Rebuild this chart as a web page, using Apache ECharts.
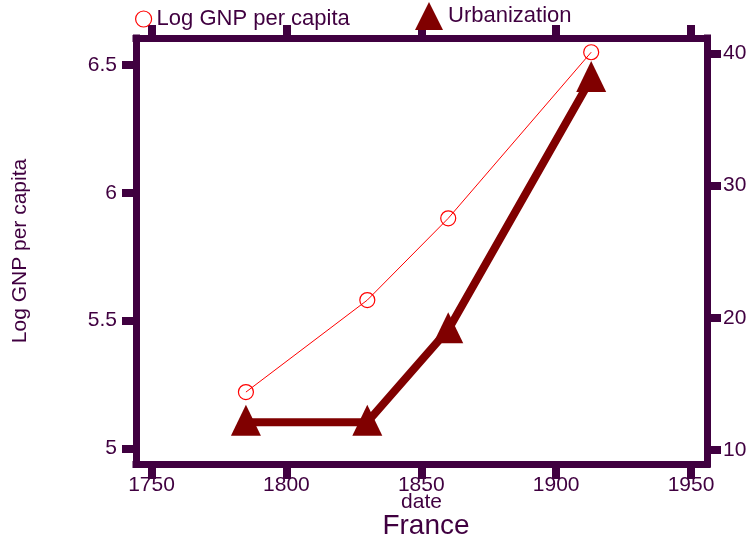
<!DOCTYPE html>
<html>
<head>
<meta charset="utf-8">
<script src="https://cdn.jsdelivr.net/npm/echarts@6/dist/echarts.min.js"></script>
<style>
  html, body { margin: 0; padding: 0; background: #fff; }
  #chart { width: 753px; height: 541px; }
</style>
</head>
<body>
<div id="chart"></div>
<script>
// France: income and urbanization over time
const years = [1785, 1830, 1860, 1913];
const logGnpPerCapita = [5.22, 5.58, 5.90, 6.55];
const urbanization = [12.1, 12.1, 19.1, 38.1];

const dateTicks = [1750, 1800, 1850, 1900, 1950];
const gnpTicks = [5, 5.5, 6, 6.5];
const urbanTicks = [10, 20, 30, 40];

const frameColor = '#400040';
const textColor = '#400040';
const font = 'Liberation Sans';

const chart = echarts.init(document.getElementById('chart'), null, { renderer: 'canvas' });

const frameLine = { show: true, lineStyle: { color: frameColor, width: 7, cap: 'square' } };
const frameTick = (values, len) => ({
  show: true, inside: false, length: len, customValues: values,
  lineStyle: { color: frameColor, width: 8 }
});
const plain = v => String(v);

chart.setOption({
  animation: false,
  backgroundColor: '#fff',
  textStyle: { fontFamily: font, color: textColor },
  title: {
    text: 'France',
    left: 421, top: 507, textAlign: 'center',
    textStyle: { fontFamily: font, fontSize: 28, fontWeight: 'normal', color: textColor }
  },
  legend: [
    {
      data: ['Log GNP per capita'],
      left: 135, top: 8, padding: 0,
      icon: 'circle', itemWidth: 16, itemHeight: 16,
      itemStyle: { color: 'transparent', borderColor: '#ff0000', borderWidth: 1.2 },
      textStyle: { fontFamily: font, fontSize: 22, color: textColor }
    },
    {
      data: ['Urbanization'],
      left: 415, top: 2, padding: 0,
      icon: 'triangle', itemWidth: 28, itemHeight: 28,
      itemStyle: { color: '#800000', borderWidth: 0 },
      textStyle: { fontFamily: font, fontSize: 22, color: textColor }
    }
  ],
  grid: { left: 136, right: 46, top: 38, bottom: 77, containLabel: false },
  xAxis: [
    {
      type: 'value', position: 'bottom', min: 1744.25, max: 1955.93,
      name: 'date', nameLocation: 'middle', nameGap: 28, nameMoveOverlap: false,
      nameTextStyle: { fontFamily: font, fontSize: 21, color: textColor },
      axisLine: Object.assign({ onZero: false }, frameLine),
      axisTick: frameTick(dateTicks, 15),
      axisLabel: { customValues: dateTicks, formatter: plain, margin: 11, fontFamily: font, fontSize: 21, color: textColor },
      splitLine: { show: false }
    },
    {
      type: 'value', position: 'top', min: 1744.25, max: 1955.93,
      axisLine: Object.assign({ onZero: false }, frameLine),
      axisTick: frameTick(dateTicks, 13),
      axisLabel: { show: false },
      splitLine: { show: false }
    }
  ],
  yAxis: [
    {
      type: 'value', position: 'left', min: 4.9386, max: 6.6057,
      name: 'Log GNP per capita', nameLocation: 'middle', nameGap: 105, nameMoveOverlap: false,
      nameTextStyle: { fontFamily: font, fontSize: 21, color: textColor },
      axisLine: Object.assign({ onZero: false }, frameLine),
      axisTick: frameTick(gnpTicks, 14),
      axisLabel: { customValues: gnpTicks, formatter: plain, margin: 19, fontFamily: font, fontSize: 21, color: textColor },
      splitLine: { show: false }
    },
    {
      type: 'value', position: 'right', min: 8.941, max: 41.157,
      axisLine: Object.assign({ onZero: false }, frameLine),
      axisTick: frameTick(urbanTicks, 14),
      axisLabel: { customValues: urbanTicks, formatter: plain, margin: 16, fontFamily: font, fontSize: 21, color: textColor },
      splitLine: { show: false }
    }
  ],
  series: [
    {
      name: 'Log GNP per capita', type: 'line',
      xAxisIndex: 0, yAxisIndex: 0,
      data: years.map((y, i) => [y, logGnpPerCapita[i]]),
      symbol: 'circle', symbolSize: 15,
      itemStyle: { color: 'transparent', borderColor: '#ff0000', borderWidth: 1.2 },
      lineStyle: { color: '#ff0000', width: 1 },
      z: 3
    },
    {
      name: 'Urbanization', type: 'line',
      xAxisIndex: 0, yAxisIndex: 1,
      data: years.map((y, i) => [y, urbanization[i]]),
      symbol: 'triangle', symbolSize: [30, 31], symbolOffset: [0, -2],
      itemStyle: { color: '#800000', borderWidth: 0 },
      lineStyle: { color: '#800000', width: 8 },
      z: 2
    }
  ]
});
</script>
</body>
</html>
